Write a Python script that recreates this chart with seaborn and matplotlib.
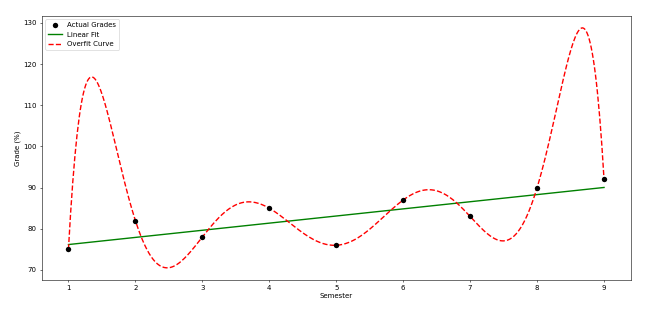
import numpy as np
import pandas as pd
import matplotlib
matplotlib.use("Agg")
import matplotlib.pyplot as plt
import seaborn as sns

semesters = [1, 2, 3, 4, 5, 6, 7, 8, 9]
grades = [75, 82, 78, 85, 76, 87, 83, 90, 92]

x = np.array(semesters, dtype=float)
y = np.array(grades, dtype=float)

# Linear fit and degree-8 overfit polynomial from the data
lin = np.polyfit(x, y, 1)
over = np.polyfit(x, y, 8)
xs = np.linspace(x.min(), x.max(), 500)

df_pts = pd.DataFrame({"Semester": x, "Grade": y})
df_lin = pd.DataFrame({"Semester": x, "Grade": np.polyval(lin, x)})
df_over = pd.DataFrame({"Semester": xs, "Grade": np.polyval(over, xs)})

fig, ax = plt.subplots(figsize=(13.02, 6.36), dpi=50)
sns.scatterplot(data=df_pts, x="Semester", y="Grade", color="black", s=60,
                edgecolor="black", linewidth=0, label="Actual Grades", ax=ax, zorder=3)
sns.lineplot(data=df_lin, x="Semester", y="Grade", color="green", linewidth=2,
             label="Linear Fit", ax=ax)
sns.lineplot(data=df_over, x="Semester", y="Grade", color="red", linewidth=2,
             linestyle="--", label="Overfit Curve", ax=ax)

ax.set_xlabel("Semester")
ax.set_ylabel("Grade (%)")
ax.set_xticks(semesters)
ax.legend(loc="upper left")
fig.subplots_adjust(left=0.064, right=0.969, top=0.95, bottom=0.12)
fig.savefig("out.png", dpi=50)
